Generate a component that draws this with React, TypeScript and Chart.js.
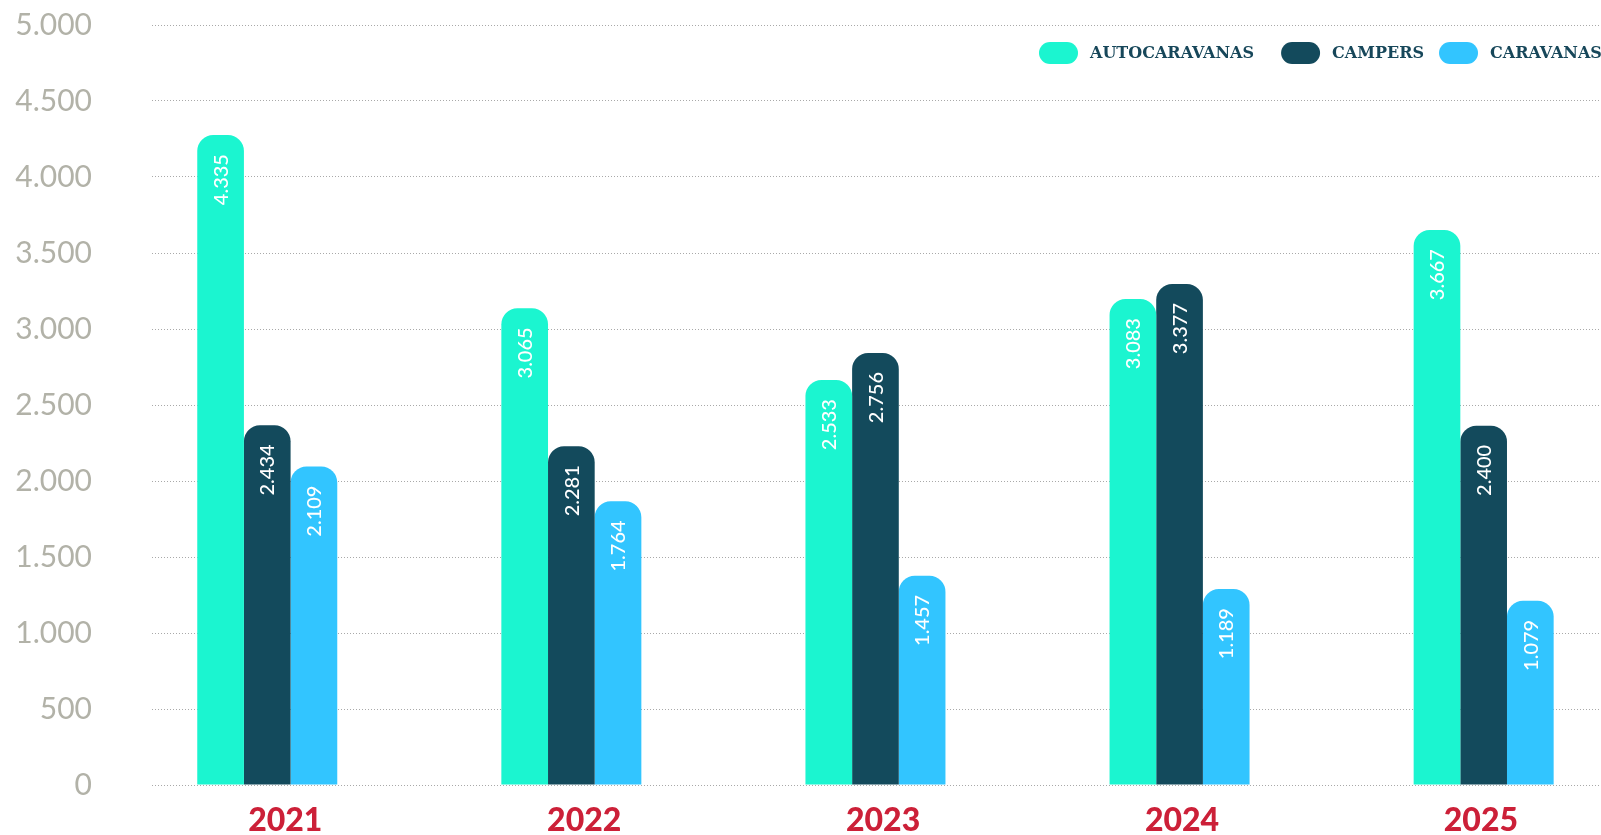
import React, { useEffect, useRef } from "react";
import { Chart, registerables } from "chart.js";

Chart.register(...registerables);

// ---- data ----
const YEARS = ["2021", "2022", "2023", "2024", "2025"];
const SERIES_NAMES = ["AUTOCARAVANAS", "CAMPERS", "CARAVANAS"];
// bar heights as drawn in the picture
const AUTO_HEIGHTS = [4276, 3136, 2664, 3197, 3651];
const CAMPER_HEIGHTS = [2366, 2229, 2842, 3296, 2363];
const CARAVAN_HEIGHTS = [2095, 1866, 1376, 1289, 1212];
// values printed on the bars
const AUTO_LABELS = [4335, 3065, 2533, 3083, 3667];
const CAMPER_LABELS = [2434, 2281, 2756, 3377, 2400];
const CARAVAN_LABELS = [2109, 1764, 1457, 1189, 1079];
const Y_TICKS = [0, 500, 1000, 1500, 2000, 2500, 3000, 3500, 4000, 4500, 5000];

const COLORS = ["#1bf5d0", "#134a5c", "#32c5ff"];

// ---- layout constants ----
const CANVAS_W = 1601;
const CANVAS_H = 835;
const Y_AXIS_W = 152;
const X_AXIS_H = 50;
const BAR_AXIS_MIN = -0.379;
const BAR_AXIS_MAX = BAR_AXIS_MIN + (CANVAS_W - Y_AXIS_W) / 304.1;
const LABEL_AXIS_MIN = -0.446;
const LABEL_AXIS_MAX = LABEL_AXIS_MIN + (CANVAS_W - Y_AXIS_W) / 298.9;

const LEGEND_X = 1039;
const LEGEND_Y = 42;
const LEGEND_BOX_W = 39;
const LEGEND_BOX_H = 22;
const LEGEND_TEXT_GAP = 12;
const LEGEND_ITEM_GAPS = [27, 15, 0];
const LEGEND_FONT = 'bold 16px "DejaVu Serif", serif';

const fmt = (v: number) => {
  const s = String(Math.round(v));
  return s.replace(/\B(?=(\d{3})+(?!\d))/g, ".");
};

const HEIGHTS = [AUTO_HEIGHTS, CAMPER_HEIGHTS, CARAVAN_HEIGHTS];
const LABELS = [AUTO_LABELS, CAMPER_LABELS, CARAVAN_LABELS];

const LABEL_FONT_SIZE = 20;

const valueLabelPlugin = {
  id: "valueLabels",
  afterDatasetsDraw(chart: any) {
    const ctx = chart.ctx;
    chart.data.datasets.forEach((_ds: any, di: number) => {
      const meta = chart.getDatasetMeta(di);
      meta.data.forEach((el: any, i: number) => {
        const { x, y } = el.getProps(["x", "y"], true);
        ctx.save();
        ctx.translate(x, y + 19);
        ctx.rotate(-Math.PI / 2);
        ctx.font = `500 ${LABEL_FONT_SIZE}px Lato, "Noto Sans", sans-serif`;
        ctx.fillStyle = "#ffffff";
        ctx.textAlign = "right";
        ctx.textBaseline = "alphabetic";
        ctx.fillText(fmt(LABELS[di][i]), 0, LABEL_FONT_SIZE * 0.36);
        ctx.restore();
      });
    });
  },
};

const legendPlugin = {
  id: "pillLegend",
  afterDraw(chart: any) {
    const ctx = chart.ctx;
    ctx.save();
    ctx.font = LEGEND_FONT;
    ctx.textAlign = "left";
    ctx.textBaseline = "middle";
    let x = LEGEND_X;
    chart.data.datasets.forEach((ds: any, di: number) => {
      ctx.fillStyle = ds.backgroundColor;
      ctx.beginPath();
      (ctx as any).roundRect(x, LEGEND_Y, LEGEND_BOX_W, LEGEND_BOX_H, LEGEND_BOX_H / 2);
      ctx.fill();
      x += LEGEND_BOX_W + LEGEND_TEXT_GAP;
      ctx.fillStyle = "#17475a";
      ctx.fillText(ds.label, x, LEGEND_Y + LEGEND_BOX_H / 2 + 1);
      x += ctx.measureText(ds.label).width + LEGEND_ITEM_GAPS[di];
    });
    ctx.restore();
  },
};

export default function App() {
  const ref = useRef<HTMLCanvasElement | null>(null);

  useEffect(() => {
    if (!ref.current) return;
    const chart = new Chart(ref.current, {
      type: "bar",
      data: {
        datasets: SERIES_NAMES.map((name, di) => ({
          label: name,
          data: HEIGHTS[di].map((v, i) => ({ x: i, y: v })),
          backgroundColor: COLORS[di],
          borderWidth: 0,
          borderRadius: 16,
          borderSkipped: "start",
          categoryPercentage: 140 / 304.1,
          barPercentage: 1,
          xAxisID: "x",
          yAxisID: "y",
        })),
      },
      options: {
        responsive: false,
        animation: false,
        devicePixelRatio: 1,
        layout: { padding: { top: 25, left: 0, right: 0, bottom: 0 } },
        plugins: {
          tooltip: { enabled: false },
          legend: { display: false },
        },
        scales: {
          x: {
            type: "linear",
            display: false,
            offset: false,
            bounds: "data",
            min: BAR_AXIS_MIN,
            max: BAR_AXIS_MAX,
            grid: { offset: false },
            afterBuildTicks: (s: any) => {
              s.ticks = YEARS.map((_y, i) => ({ value: i }));
            },
          },
          x2: {
            type: "linear",
            position: "bottom",
            offset: false,
            bounds: "data",
            min: LABEL_AXIS_MIN,
            max: LABEL_AXIS_MAX,
            grid: { display: false, drawTicks: false, offset: false },
            border: { display: false },
            afterBuildTicks: (s: any) => {
              s.ticks = YEARS.map((_y, i) => ({ value: i }));
            },
            afterFit: (s: any) => {
              s.height = X_AXIS_H;
              s.paddingLeft = 0;
              s.paddingRight = 0;
            },
            ticks: {
              padding: 16,
              maxRotation: 0,
              autoSkip: false,
              color: "#cc2038",
              font: { family: "Lato, sans-serif", size: 32, weight: "900" },
              callback: (v: any) => {
                const n = Math.round(Number(v));
                return YEARS[n] !== undefined ? YEARS[n] : "";
              },
            },
          },
          y: {
            type: "linear",
            min: 0,
            max: 5000,
            afterFit: (s: any) => {
              s.width = Y_AXIS_W;
              s.paddingTop = 0;
              s.paddingBottom = 0;
            },
            afterBuildTicks: (s: any) => {
              s.ticks = Y_TICKS.map((v) => ({ value: v }));
            },
            grid: { color: "#a9a9a9", lineWidth: 1, drawTicks: false },
            border: { display: false, dash: [1, 2] },
            ticks: {
              padding: 60,
              color: "#b2b2a8",
              font: { family: "Lato, sans-serif", size: 30 },
              callback: (v: any) => fmt(Number(v)),
            },
          },
        },
      },
      plugins: [valueLabelPlugin, legendPlugin],
    } as any);
    return () => chart.destroy();
  }, []);

  return (
    <div
      style={{
        position: "fixed",
        left: 0,
        top: 0,
        width: "1601px",
        height: "835px",
        overflow: "hidden",
        background: "#ffffff",
      }}
    >
      <canvas ref={ref} width={CANVAS_W} height={CANVAS_H} style={{ display: "block" }} />
    </div>
  );
}
